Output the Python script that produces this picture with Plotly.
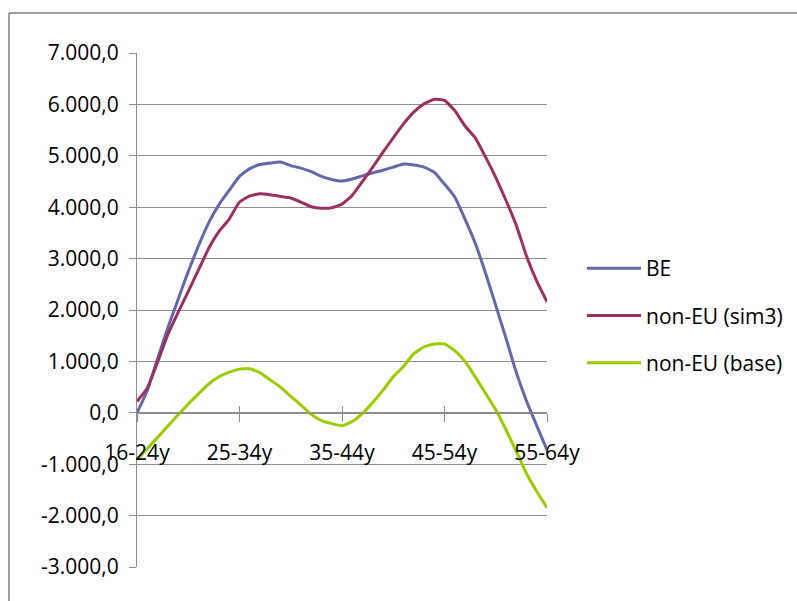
import plotly.graph_objects as go

# Age-group positions along the x axis (10 steps between group labels)
x_pos = list(range(41))
group_ticks = [0, 10, 20, 30, 40]
group_labels = ["16-24y", "25-34y", "35-44y", "45-54y", "55-64y"]

be = [0, 430, 1050, 1650, 2200, 2750, 3250, 3700, 4050, 4330,
      4600, 4750, 4830, 4860, 4880, 4810, 4760, 4690, 4600, 4540,
      4510, 4550, 4610, 4670, 4720, 4780, 4840, 4820, 4780, 4680,
      4450, 4200, 3770, 3300, 2720, 2090, 1450, 790, 230, -250,
      -720]

non_eu_sim3 = [220, 480, 980, 1520, 1950, 2360, 2780, 3200, 3530, 3770,
               4100, 4220, 4260, 4240, 4210, 4180, 4100, 4010, 3980, 3990,
               4060, 4230, 4500, 4780, 5070, 5350, 5620, 5850, 6010, 6100,
               6080, 5880, 5580, 5350, 4980, 4580, 4130, 3650, 3050, 2560,
               2160]

non_eu_base = [-914, -700, -480, -260, -40, 170, 370, 560, 700, 790,
               850, 856, 780, 640, 500, 320, 150, -30, -150, -210,
               -250, -170, -10, 200, 440, 700, 900, 1150, 1280, 1340,
               1340, 1210, 1000, 700, 380, 60, -330, -750, -1180, -1530,
               -1848]

y_ticks = [-3000, -2000, -1000, 0, 1000, 2000, 3000, 4000, 5000, 6000, 7000]
y_tick_labels = ["-3.000,0", "-2.000,0", "-1.000,0", "0,0", "1.000,0", "2.000,0",
                 "3.000,0", "4.000,0", "5.000,0", "6.000,0", "7.000,0"]

FONT = "Open Sans"
FS = 21
AXIS_GREY = "#8c8c8c"

fig = go.Figure()
series = [
    ("BE", be, "#6667a8"),
    ("non-EU (sim3)", non_eu_sim3, "#9b2f62"),
    ("non-EU (base)", non_eu_base, "#99cc00"),
]
for name, vals, color in series:
    fig.add_trace(go.Scatter(
        x=x_pos, y=vals, name=name, mode="lines",
        line=dict(color=color, width=3, shape="spline", smoothing=0.4),
        legendgroup=name,
    ))

# invisible trace carrying the inward half of the crossing x ticks
fig.add_trace(go.Scatter(x=[0, 40], y=[0, 0], xaxis="x2", mode="lines",
                         line=dict(width=0), showlegend=False, hoverinfo="skip"))

L, R, T, B = 137, 250, 53, 34
W, H = 797, 601
pw, ph = W - L - R, H - T - B
zero_pos = (0 - (-3000)) / 10000

fig.update_layout(
    width=W, height=H, autosize=False,
    margin=dict(l=L, r=R, t=T, b=B, pad=0, autoexpand=False),
    paper_bgcolor="white", plot_bgcolor="white",
    font=dict(family=FONT, size=FS, color="black"),
    showlegend=True,
    legend=dict(
        x=(582 - L) / pw, y=(H - B - 248) / ph, xanchor="left", yanchor="top",
        font=dict(family=FONT, size=FS, color="black"),
        itemwidth=54, tracegroupgap=17, bgcolor="rgba(0,0,0,0)",
    ),
    xaxis=dict(
        range=[0, 40], anchor="free", position=zero_pos,
        tickvals=group_ticks, ticktext=group_labels,
        ticks="outside", ticklen=8, tickcolor=AXIS_GREY, tickwidth=1,
        showline=True, linecolor=AXIS_GREY, linewidth=1,
        showgrid=False, zeroline=False, ticklabelstandoff=13,
        tickfont=dict(family=FONT, size=FS, color="black"),
    ),
    xaxis2=dict(
        range=[0, 40], overlaying="x", anchor="free", position=zero_pos,
        tickvals=group_ticks, showticklabels=False,
        ticks="inside", ticklen=7, tickcolor=AXIS_GREY, tickwidth=1,
        showline=False, showgrid=False, zeroline=False,
    ),
    yaxis=dict(
        range=[-3000, 7000], tickvals=y_ticks, ticktext=y_tick_labels,
        ticks="outside", ticklen=7, tickcolor=AXIS_GREY, tickwidth=1,
        showline=True, linecolor=AXIS_GREY, linewidth=1,
        showgrid=True, gridcolor=AXIS_GREY, gridwidth=1,
        zeroline=False, ticklabelstandoff=6,
        tickfont=dict(family=FONT, size=FS, color="black"),
    ),
    shapes=[
        # outer frame around the chart object
        dict(type="line", xref="paper", yref="paper",
             x0=(9 - L) / pw, x1=(W + 5 - L) / pw,
             y0=(H - B - 13) / ph, y1=(H - B - 13) / ph,
             line=dict(color="#7f7f7f", width=1.5)),
        dict(type="line", xref="paper", yref="paper",
             x0=(9 - L) / pw, x1=(9 - L) / pw,
             y0=(H - B - 13) / ph, y1=-(B + 5) / ph,
             line=dict(color="#7f7f7f", width=1.5)),
    ],
)

fig.write_html("out.html")
